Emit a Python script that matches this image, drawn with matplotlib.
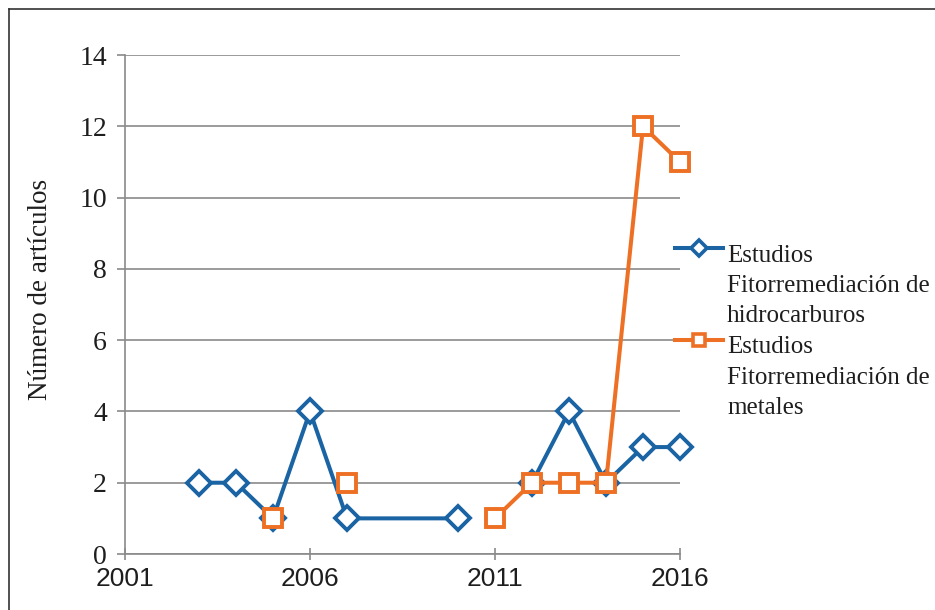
import numpy as np
import matplotlib.pyplot as plt
from matplotlib.lines import Line2D

# articles per year (NaN = no value that year)
years = np.arange(2003, 2017)
hidrocarburos = [2, 2, 1, 4, 1, np.nan, np.nan, 1, np.nan, 2, 4, 2, 3, 3]
metales = [np.nan, np.nan, 1, np.nan, 2, np.nan, np.nan, np.nan, 1, 2, 2, 2, 12, 11]

# the blue line runs straight from 2007 to 2010, so drop the empty years for it
h = np.array(hidrocarburos, dtype=float)
h_years = years.copy()
keep = ~((h_years > 2007) & (h_years < 2010))
h_years, h = h_years[keep], h[keep]

labels = ['Estudios\nFitorremediación de\nhidrocarburos',
          'Estudios\nFitorremediación de\nmetales']
xticks = [2001, 2006, 2011, 2016]
yticks = np.arange(0, 15, 2)

blue = '#1b64a4'
orange = '#ee7024'
gray = '#8a8a8a'
txt = '#1e1e1e'
serif = 'Liberation Serif'
sans = 'Liberation Sans'

fig = plt.figure(figsize=(9.35, 6.1), dpi=100)
ax = fig.add_axes([0.1337, 0.0918, 0.5936, 0.818])

ax.plot(h_years, h, color=blue, lw=2.9, marker='D', ms=12.5, mfc='white',
        mec=blue, mew=2.8, clip_on=False, zorder=3)
ax.plot(years, metales, color=orange, lw=2.9, marker='s', ms=13, mfc='white',
        mec=orange, mew=2.8, clip_on=False, zorder=4)

ax.set_xlim(2001, 2016)
ax.set_ylim(0, 14)
ax.set_xticks(xticks)
ax.set_yticks(yticks)
ax.grid(axis='y', color=gray, lw=1.2)
ax.set_axisbelow(True)
for s in ['top', 'right']:
    ax.spines[s].set_visible(False)
for s in ['left', 'bottom']:
    ax.spines[s].set_color(gray)
    ax.spines[s].set_linewidth(1.2)
ax.tick_params(axis='y', colors=gray, length=6, width=1.2, pad=7, labelcolor=txt)
ax.tick_params(axis='x', colors=gray, length=8, width=1.2, direction='inout', pad=5,
               labelcolor=txt)
for t in ax.get_yticklabels():
    t.set_fontfamily(serif)
    t.set_fontsize(20)
for t in ax.get_xticklabels():
    t.set_fontfamily(sans)
    t.set_fontsize(19)
ax.set_ylabel('Número de artículos', fontfamily=serif, fontsize=19.5, color=txt)
ax.yaxis.set_label_coords(-0.130, 0.531)

# legend drawn by hand so the marker sits on the first text line
# (text y is the baseline of the last line)
entries = [(blue, 'D', 8.5, labels[0], 0.613, 0.465),
           (orange, 's', 9, labels[1], 0.429, 0.281)]
for col, mk, ms, lab, yh, yt in entries:
    ax.add_line(Line2D([0.991, 1.0775], [yh, yh], transform=ax.transAxes, color=col, lw=2.9,
                       clip_on=False))
    ax.add_line(Line2D([1.034], [yh], transform=ax.transAxes, color=col, marker=mk, ms=ms,
                       mfc='white', mec=col, mew=2.6, clip_on=False))
    ax.text(1.0847, yt, lab, transform=ax.transAxes, va='baseline', ha='left',
            fontfamily=serif, fontsize=18, color=txt, linespacing=1.48)

# frame around the picture (only left and top show)
fig.add_artist(Line2D([0.0096, 0.0096], [0, 0.985], color='#333333', lw=1.2))
fig.add_artist(Line2D([0.0096, 1], [0.985, 0.985], color='#333333', lw=1.2))

fig.savefig('out.png', dpi=100)
